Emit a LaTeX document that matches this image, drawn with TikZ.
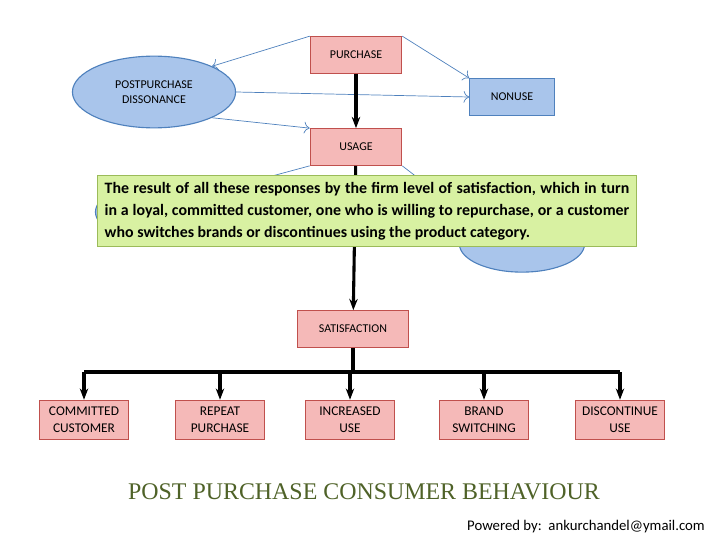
\documentclass[tikz,border=0pt]{standalone}
\usepackage{fontspec}
\setmainfont{Carlito}
\newfontfamily\titlefont{Liberation Serif}
\usetikzlibrary{arrows.meta, positioning, shapes.geometric}
\definecolor{boxred}{HTML}{F5B9B8}
\definecolor{edgered}{HTML}{C0504D}
\definecolor{ellblue}{HTML}{A9C5EB}
\definecolor{edgeblue}{HTML}{4F81BD}
\definecolor{notegreen}{HTML}{D8F1A2}
\definecolor{edgegreen}{HTML}{9BBB59}
\definecolor{olive}{HTML}{4F6228}

\begin{document}
\begin{tikzpicture}[
            x = 0.025cm, y = -0.025cm, % pixel grid
            thick,
            font=\fontsize{8.5}{10.5}\selectfont
  ]

        \tikzset{
            stage/.style = {draw = edgered, fill = boxred, rectangle, align = center,
                           minimum height = 26pt},
            outcome/.style = {stage, minimum width = 63pt, minimum height = 28pt,
                           font = \fontsize{9.5}{12}\selectfont},
            mood/.style = {draw = edgeblue, fill = ellblue, ellipse, align = center},
            side/.style = {->, draw = edgeblue, line width = 0.5pt, >={To[length=4pt]}},
            flow/.style = {-{Stealth[length=8pt]}, line width = 2.2pt}
        }

        \useasboundingbox (0, 0) rectangle (728, 546);

        \node[stage, minimum width = 65pt] (purchase) at (356, 55) {PURCHASE};
        \node[mood, minimum width = 116pt, minimum height = 51pt] (dissonance) at (154, 92) {POSTPURCHASE\\DISSONANCE};
        \node[stage, fill = ellblue, draw = edgeblue, minimum width = 60pt] (nonuse) at (512, 97) {NONUSE};
        \node[stage, minimum width = 65pt] (usage) at (356, 147) {USAGE};
        \node[mood, minimum width = 106pt, minimum height = 45pt] (leftmood) at (170, 212) {};
        \node[mood, minimum width = 89pt, minimum height = 40pt] (rightmood) at (522, 244) {};
        \node[stage, minimum width = 79pt] (satisfaction) at (353, 329) {SATISFACTION};

        \node[outcome] (committed) at (84, 420) {COMMITTED\\CUSTOMER};
        \node[outcome] (repeat) at (220, 420) {REPEAT\\PURCHASE};
        \node[outcome] (increased) at (350, 420) {INCREASED\\USE};
        \node[outcome] (brand) at (484, 420) {BRAND\\SWITCHING};
        \node[outcome] (discontinue) at (620, 420) {DISCONTINUE\\USE};

        \draw[side] (purchase.north west) -- (dissonance.north east);
        \draw[side] (purchase.north east) -- (nonuse.north west);
        \draw[side] (dissonance.east) -- (nonuse.west);
        \draw[side] (dissonance.south east) -- (usage.north west);
        \draw[side] (usage.south west) -- (leftmood.north east);
        \draw[side] (usage.south east) -- (rightmood.north west);

        \draw[flow] (purchase) -- (usage);
        \draw[flow] (usage) -- (satisfaction);

        % fan out to the five outcomes
        \coordinate (split) at (353, 372);
        \draw[line width = 2.2pt] (satisfaction) -- (split);
        \draw[line width = 2.2pt] (committed.north |- split) -- (discontinue.north |- split);
        \foreach \n in {committed, repeat, increased, brand, discontinue}
            \draw[flow] (\n.north |- split) -- (\n);

        \node[draw = edgegreen, fill = notegreen, text width = 373pt, align = justify,
              inner xsep = 5pt, inner ysep = 5pt,
              font = \fontsize{11.3}{15.6}\selectfont\bfseries] (note) at (367, 211)
            {The result of all these responses by the firm level of satisfaction, which in turn in a loyal, committed customer, one who is willing to repurchase, or a customer who switches brands or discontinues using the product category.};

        \node[text = olive, font = \titlefont\fontsize{17}{20}\selectfont] (title) at (364, 492)
            {POST PURCHASE CONSUMER BEHAVIOUR};
        \node[anchor = east, font = \fontsize{10.5}{12}\selectfont] (credit) at (710, 527)
            {Powered by:\ \ ankurchandel@ymail.com};
    \end{tikzpicture}
\end{document}
